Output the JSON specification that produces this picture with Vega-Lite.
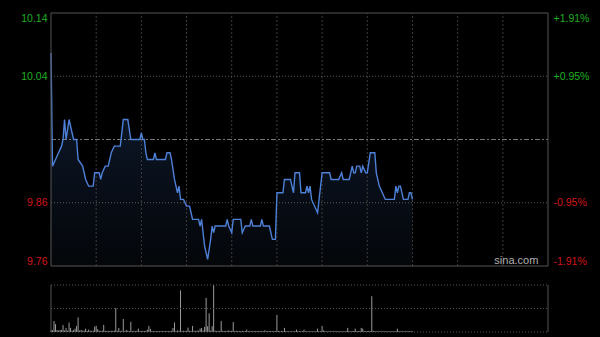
{
 "$schema": "https://vega.github.io/schema/vega-lite/v6.json",
 "width": 497, "height": 319,
 "autosize": {"type": "none"},
 "padding": {"left": 51, "top": 13, "right": 52, "bottom": 5},
 "background": "#000000",
 "config": {"view": {"stroke": null}, "font": "Liberation Sans", "axis": {"labelFont": "Liberation Sans"}},
 "datasets": {
  "price": [
   {"t":0,"p":10.08},{"t":1,"p":9.91},{"t":3,"p":9.92},{"t":5,"p":9.93},{"t":7,"p":9.94},{"t":8,"p":9.95},{"t":9,"p":9.98},{"t":10,"p":9.95},{"t":12,"p":9.98},{"t":14,"p":9.96},{"t":15,"p":9.95},{"t":17,"p":9.95},{"t":18,"p":9.92},{"t":21,"p":9.91},{"t":23,"p":9.89},{"t":25,"p":9.88},{"t":28,"p":9.88},{"t":29,"p":9.90},{"t":32,"p":9.90},{"t":33,"p":9.89},{"t":34,"p":9.90},{"t":36,"p":9.91},{"t":38,"p":9.91},{"t":40,"p":9.93},{"t":42,"p":9.94},{"t":46,"p":9.94},{"t":48,"p":9.98},{"t":51,"p":9.98},{"t":53,"p":9.95},{"t":59,"p":9.95},{"t":60,"p":9.96},{"t":61,"p":9.95},{"t":62,"p":9.95},{"t":63,"p":9.93},{"t":64,"p":9.92},{"t":68,"p":9.92},{"t":69,"p":9.93},{"t":70,"p":9.92},{"t":76,"p":9.92},{"t":77,"p":9.93},{"t":79,"p":9.93},{"t":80,"p":9.92},{"t":82,"p":9.89},{"t":83,"p":9.88},{"t":84,"p":9.87},{"t":85,"p":9.88},{"t":86,"p":9.86},{"t":88,"p":9.86},{"t":90,"p":9.85},{"t":92,"p":9.85},{"t":94,"p":9.83},{"t":98,"p":9.83},{"t":99,"p":9.82},{"t":100,"p":9.83},{"t":101,"p":9.81},{"t":102,"p":9.79},{"t":104,"p":9.77},{"t":106,"p":9.80},{"t":107,"p":9.82},{"t":108,"p":9.81},{"t":109,"p":9.82},{"t":116,"p":9.82},{"t":117,"p":9.83},{"t":118,"p":9.82},{"t":120,"p":9.81},{"t":121,"p":9.83},{"t":126,"p":9.83},{"t":127,"p":9.81},{"t":129,"p":9.82},{"t":132,"p":9.82},{"t":133,"p":9.83},{"t":134,"p":9.82},{"t":139,"p":9.82},{"t":140,"p":9.83},{"t":141,"p":9.82},{"t":145,"p":9.82},{"t":147,"p":9.80},{"t":149,"p":9.80},{"t":150,"p":9.87},{"t":154,"p":9.87},{"t":155,"p":9.89},{"t":159,"p":9.89},{"t":161,"p":9.87},{"t":162,"p":9.90},{"t":165,"p":9.90},{"t":166,"p":9.87},{"t":169,"p":9.87},{"t":170,"p":9.88},{"t":171,"p":9.87},{"t":172,"p":9.88},{"t":173,"p":9.86},{"t":177,"p":9.84},{"t":180,"p":9.90},{"t":185,"p":9.90},{"t":186,"p":9.89},{"t":191,"p":9.89},{"t":193,"p":9.90},{"t":194,"p":9.89},{"t":198,"p":9.89},{"t":200,"p":9.91},{"t":201,"p":9.90},{"t":202,"p":9.90},{"t":203,"p":9.91},{"t":205,"p":9.91},{"t":206,"p":9.90},{"t":207,"p":9.91},{"t":209,"p":9.90},{"t":210,"p":9.90},{"t":212,"p":9.93},{"t":215,"p":9.93},{"t":216,"p":9.90},{"t":218,"p":9.88},{"t":220,"p":9.87},{"t":222,"p":9.86},{"t":228,"p":9.86},{"t":229,"p":9.88},{"t":230,"p":9.87},{"t":231,"p":9.88},{"t":232,"p":9.88},{"t":234,"p":9.86},{"t":237,"p":9.86},{"t":238,"p":9.87},{"t":239,"p":9.87},{"t":240,"p":9.86}
  ],
  "vol": [
   {"t":0,"v":15},{"t":1,"v":18},{"t":2,"v":107},{"t":3,"v":77},{"t":4,"v":20},{"t":5,"v":14},{"t":6,"v":20},{"t":7,"v":20},{"t":8,"v":67},{"t":9,"v":15},{"t":10,"v":40},{"t":11,"v":12},{"t":12,"v":93},{"t":13,"v":40},{"t":14,"v":12},{"t":15,"v":20},{"t":16,"v":33},{"t":17,"v":60},{"t":18,"v":143},{"t":19,"v":14},{"t":20,"v":20},{"t":21,"v":12},{"t":22,"v":15},{"t":23,"v":33},{"t":24,"v":10},{"t":25,"v":23},{"t":26,"v":12},{"t":27,"v":10},{"t":28,"v":14},{"t":29,"v":53},{"t":30,"v":60},{"t":31,"v":27},{"t":32,"v":12},{"t":33,"v":10},{"t":34,"v":14},{"t":35,"v":70},{"t":36,"v":12},{"t":37,"v":10},{"t":38,"v":12},{"t":39,"v":10},{"t":40,"v":12},{"t":41,"v":10},{"t":42,"v":14},{"t":43,"v":233},{"t":44,"v":12},{"t":45,"v":40},{"t":46,"v":10},{"t":47,"v":12},{"t":48,"v":127},{"t":49,"v":10},{"t":50,"v":20},{"t":51,"v":12},{"t":52,"v":10},{"t":53,"v":100},{"t":54,"v":10},{"t":55,"v":12},{"t":56,"v":10},{"t":57,"v":12},{"t":58,"v":33},{"t":59,"v":10},{"t":60,"v":10},{"t":61,"v":12},{"t":62,"v":10},{"t":63,"v":12},{"t":64,"v":23},{"t":65,"v":60},{"t":66,"v":30},{"t":67,"v":10},{"t":68,"v":8},{"t":69,"v":10},{"t":70,"v":8},{"t":71,"v":10},{"t":72,"v":8},{"t":73,"v":10},{"t":74,"v":8},{"t":75,"v":10},{"t":76,"v":8},{"t":77,"v":10},{"t":78,"v":8},{"t":79,"v":10},{"t":80,"v":12},{"t":81,"v":40},{"t":82,"v":93},{"t":83,"v":10},{"t":84,"v":15},{"t":85,"v":12},{"t":86,"v":407},{"t":87,"v":10},{"t":88,"v":12},{"t":89,"v":10},{"t":90,"v":12},{"t":91,"v":43},{"t":92,"v":12},{"t":93,"v":10},{"t":94,"v":60},{"t":95,"v":12},{"t":96,"v":10},{"t":97,"v":15},{"t":98,"v":12},{"t":99,"v":33},{"t":100,"v":40},{"t":101,"v":14},{"t":102,"v":50},{"t":103,"v":333},{"t":104,"v":57},{"t":105,"v":183},{"t":106,"v":14},{"t":107,"v":57},{"t":108,"v":460},{"t":109,"v":12},{"t":110,"v":10},{"t":111,"v":12},{"t":112,"v":10},{"t":113,"v":107},{"t":114,"v":12},{"t":115,"v":10},{"t":116,"v":12},{"t":117,"v":10},{"t":118,"v":17},{"t":119,"v":10},{"t":120,"v":12},{"t":121,"v":97},{"t":122,"v":10},{"t":123,"v":12},{"t":124,"v":8},{"t":125,"v":10},{"t":126,"v":8},{"t":127,"v":12},{"t":128,"v":8},{"t":129,"v":10},{"t":130,"v":23},{"t":131,"v":8},{"t":132,"v":10},{"t":133,"v":8},{"t":134,"v":10},{"t":135,"v":8},{"t":136,"v":10},{"t":137,"v":8},{"t":138,"v":10},{"t":139,"v":8},{"t":140,"v":10},{"t":141,"v":8},{"t":142,"v":17},{"t":143,"v":8},{"t":144,"v":10},{"t":145,"v":8},{"t":146,"v":10},{"t":147,"v":8},{"t":148,"v":10},{"t":149,"v":8},{"t":150,"v":167},{"t":151,"v":10},{"t":152,"v":8},{"t":153,"v":10},{"t":154,"v":8},{"t":155,"v":40},{"t":156,"v":8},{"t":157,"v":6},{"t":158,"v":8},{"t":159,"v":6},{"t":160,"v":8},{"t":161,"v":6},{"t":162,"v":8},{"t":163,"v":23},{"t":164,"v":6},{"t":165,"v":8},{"t":166,"v":6},{"t":167,"v":8},{"t":168,"v":23},{"t":169,"v":6},{"t":170,"v":8},{"t":171,"v":6},{"t":172,"v":8},{"t":173,"v":6},{"t":174,"v":8},{"t":175,"v":6},{"t":176,"v":8},{"t":177,"v":33},{"t":178,"v":6},{"t":179,"v":8},{"t":180,"v":60},{"t":181,"v":15},{"t":182,"v":8},{"t":183,"v":6},{"t":184,"v":8},{"t":185,"v":6},{"t":186,"v":8},{"t":187,"v":6},{"t":188,"v":8},{"t":189,"v":6},{"t":190,"v":8},{"t":191,"v":6},{"t":192,"v":8},{"t":193,"v":6},{"t":194,"v":8},{"t":195,"v":6},{"t":196,"v":8},{"t":197,"v":40},{"t":198,"v":8},{"t":199,"v":6},{"t":200,"v":8},{"t":201,"v":10},{"t":202,"v":33},{"t":203,"v":8},{"t":204,"v":10},{"t":205,"v":8},{"t":206,"v":40},{"t":207,"v":33},{"t":208,"v":8},{"t":209,"v":10},{"t":210,"v":8},{"t":211,"v":10},{"t":212,"v":8},{"t":213,"v":350},{"t":214,"v":10},{"t":215,"v":8},{"t":216,"v":6},{"t":217,"v":8},{"t":218,"v":6},{"t":219,"v":8},{"t":220,"v":6},{"t":221,"v":8},{"t":222,"v":6},{"t":223,"v":8},{"t":224,"v":6},{"t":225,"v":8},{"t":226,"v":6},{"t":227,"v":8},{"t":228,"v":6},{"t":229,"v":8},{"t":230,"v":33},{"t":231,"v":8},{"t":232,"v":6},{"t":233,"v":8},{"t":234,"v":6},{"t":235,"v":8},{"t":236,"v":6},{"t":237,"v":8},{"t":238,"v":6},{"t":239,"v":8},{"t":240,"v":6}
  ],
  "ticks": [{"t":30},{"t":60},{"t":90},{"t":120},{"t":150},{"t":180},{"t":210},{"t":240},{"t":270},{"t":300}],
  "levels": [{"p":10.045},{"p":9.855}],
  "vlevels": [{"v":460},{"v":230},{"v":0}]
 },
 "resolve": {"scale": {"y": "independent"}, "axis": {"y": "independent"}},
 "layer": [
  {
   "layer": [
    {
     "data": {"name": "price"},
     "mark": {"type": "area", "fill": {"x1": 0, "y1": 0, "x2": 0, "y2": 1, "gradient": "linear", "stops": [{"offset": 0, "color": "#0f1d33"}, {"offset": 1, "color": "#040609"}]}},
     "encoding": {
      "x": {"field": "t", "type": "quantitative", "scale": {"domain": [0, 330], "nice": false, "zero": false}, "axis": null},
      "y": {"field": "p", "type": "quantitative", "scale": {"domain": [9.76, 10.14], "range": [253, 0], "nice": false, "zero": false},
       "axis": {"orient": "left", "values": [9.76, 9.855, 10.045, 10.14],
        "labelExpr": "datum.value > 10.1 ? '10.14' : datum.value > 10 ? '10.04' : datum.value > 9.8 ? '9.86' : '9.76'",
        "labelColor": {"condition": {"test": "datum.value > 9.95", "value": "#1fb01f"}, "value": "#d41414"},
        "labelFlush": true, "labelFlushOffset": 0, "domain": false, "ticks": false, "grid": false,
        "labelPadding": 4, "labelFontSize": 10.5, "title": null}},
      "y2": {"datum": 9.76}
     }
    },
    {
     "data": {"name": "ticks"},
     "mark": {"type": "rule", "stroke": "#3c3c3c", "strokeDash": [2, 2]},
     "encoding": {"x": {"field": "t", "type": "quantitative"}, "y": {"datum": 9.76}, "y2": {"datum": 10.14}}
    },
    {
     "data": {"name": "levels"},
     "mark": {"type": "rule", "stroke": "#5a5a5a", "strokeDash": [1, 2]},
     "encoding": {"y": {"field": "p", "type": "quantitative"}, "x": {"datum": 0}, "x2": {"datum": 330}}
    },
    {
     "data": {"values": [{}]},
     "mark": {"type": "rule", "stroke": "#777777", "strokeDash": [5, 2, 2, 2]},
     "encoding": {"y": {"datum": 9.95}, "x": {"datum": 0}, "x2": {"datum": 330}}
    },
    {
     "data": {"name": "price"},
     "mark": {"type": "line", "stroke": "#4d80d6", "strokeWidth": 1.4},
     "encoding": {"x": {"field": "t", "type": "quantitative"}, "y": {"field": "p", "type": "quantitative"}}
    },
    {
     "data": {"values": [{}]},
     "mark": {"type": "rect", "fill": "transparent", "stroke": "#555555", "strokeWidth": 1},
     "encoding": {"x": {"datum": 0}, "x2": {"datum": 330}, "y": {"datum": 9.76}, "y2": {"datum": 10.14}}
    },
    {
     "data": {"values": [{"label": "sina.com"}]},
     "mark": {"type": "text", "color": "#b0b0b0", "fontSize": 11, "font": "Liberation Sans", "align": "center", "baseline": "middle"},
     "encoding": {"x": {"datum": 309}, "y": {"datum": 9.768}, "text": {"field": "label"}}
    }
   ]
  },
  {
   "data": {"values": [{}]},
   "mark": {"type": "point", "opacity": 0, "size": 0},
   "encoding": {
    "x": {"datum": 0},
    "y": {"datum": 0, "type": "quantitative", "scale": {"domain": [-1.91, 1.91], "range": [253, 0], "nice": false, "zero": false},
     "axis": {"orient": "right", "values": [-1.91, -0.955, 0.955, 1.91],
      "labelExpr": "datum.value > 1.5 ? '+1.91%' : datum.value > 0 ? '+0.95%' : datum.value > -1.5 ? '-0.95%' : '-1.91%'",
      "labelColor": {"condition": {"test": "datum.value > 0", "value": "#1fb01f"}, "value": "#d41414"},
      "labelFlush": true, "labelFlushOffset": 0, "domain": false, "ticks": false, "grid": false,
      "labelPadding": 5, "labelFontSize": 10.5, "title": null}}
   }
  },
  {
   "layer": [
    {
     "data": {"name": "vol"},
     "mark": {"type": "rule", "stroke": "#9a9a9a", "strokeWidth": 1},
     "encoding": {
      "x": {"field": "t", "type": "quantitative"},
      "y": {"field": "v", "type": "quantitative", "scale": {"domain": [0, 460], "range": [319, 272], "nice": false}, "axis": null},
      "y2": {"datum": 0}
     }
    },
    {
     "data": {"name": "vlevels"},
     "mark": {"type": "rule", "stroke": "#5a5a5a", "strokeDash": [1, 2]},
     "encoding": {"y": {"field": "v", "type": "quantitative"}, "x": {"datum": 0}, "x2": {"datum": 330}}
    },
    {
     "data": {"values": [{}]},
     "mark": {"type": "rule", "stroke": "#555555"},
     "encoding": {"x": {"datum": 0}, "y": {"datum": 0}, "y2": {"datum": 460}}
    },
    {
     "data": {"values": [{}]},
     "mark": {"type": "rule", "stroke": "#555555"},
     "encoding": {"x": {"datum": 330}, "y": {"datum": 0}, "y2": {"datum": 460}}
    }
   ]
  }
 ]
}
